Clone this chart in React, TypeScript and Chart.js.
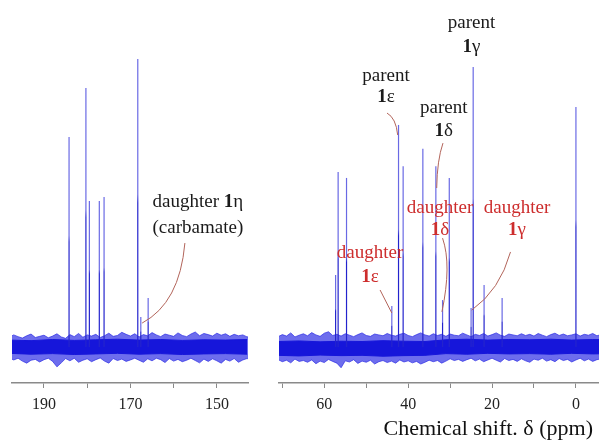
import React, { useEffect, useRef } from 'react';
import { Chart, registerables } from 'chart.js';
Chart.register(...registerables);

const SERIF = '"Liberation Serif", "Times New Roman", Times, serif';

// ---- data (ppm, relative intensity) ----
const leftPeakPpm = [184.2, 180.3, 179.5, 177.2, 176.1, 168.3, 167.6, 165.9];
const leftPeakHeight = [72.9, 89.9, 50.7, 50.7, 52.1, 100, 10.4, 17.0];
const rightPeakPpm = [57.3, 56.7, 54.7, 43.9, 42.3, 41.2, 36.5, 33.4, 31.8, 30.2, 25.0, 24.5, 21.9, 17.6, 0.0];
const rightPeakHeight = [25, 60.8, 58.7, 14.2, 77.1, 62.8, 68.8, 62.8, 16.3, 58.7, 13.5, 97.2, 21.5, 17.0, 83.3];

// noise envelope sampled every 1 ppm (left: 198 -> 142, right: 71 -> -6)
const leftNoiseUpper = [3.4,4.2,3.6,3.1,3.9,4.5,3.3,3.7,4.1,3.2,3.8,4.6,3.5,3.0,4.3,3.6,4.7,3.4,4.2,3.8,4.4,3.3,3.9,4.8,3.7,4.0,5.1,4.4,3.8,4.6,3.5,4.3,3.9,5.0,4.2,3.6,4.5,4.1,3.7,4.9,4.0,3.6,4.5,5.2,3.9,4.7,4.3,3.8,4.8,4.1,4.6,3.7,4.4,3.9,4.2,3.5,4.0];
const leftNoiseLower = [-3.8,-4.5,-3.9,-4.9,-5.6,-4.6,-4.3,-5.2,-4.4,-3.9,-5.0,-6.9,-5.5,-4.0,-4.8,-3.9,-5.3,-4.6,-4.1,-5.1,-4.4,-3.8,-4.9,-5.6,-4.0,-4.7,-4.2,-5.0,-4.5,-3.9,-4.6,-5.3,-4.1,-4.8,-3.9,-4.4,-5.4,-4.0,-4.9,-4.3,-5.1,-4.6,-3.9,-4.7,-5.5,-4.2,-5.0,-4.1,-4.8,-5.6,-4.3,-4.9,-4.0,-5.3,-4.5,-4.0,-4.6];
const rightNoiseUpper = [3.6,4.3,3.8,4.9,3.5,4.1,4.6,3.9,5.0,4.2,3.7,4.8,5.3,4.0,4.4,3.8,4.6,4.1,3.6,4.3,4.9,4.0,3.7,4.5,4.2,3.9,4.7,4.1,3.8,4.4,4.8,4.0,3.6,4.3,4.9,4.2,3.8,4.6,4.0,4.4,3.7,4.5,4.1,3.9,4.8,4.2,3.6,4.4,4.0,4.7,3.8,4.3,4.9,4.1,3.7,4.5,4.2,3.9,4.6,4.0,4.4,3.8,4.7,4.1,3.6,4.3,4.8,4.0,4.5,3.9,4.2,4.6,3.8,4.4,4.1,4.7,3.9,4.3];
const rightNoiseLower = [-4.4,-5.1,-4.6,-5.5,-4.2,-5.0,-4.7,-5.3,-4.5,-5.8,-4.9,-5.4,-4.3,-5.0,-5.6,-7.2,-4.8,-5.2,-4.4,-5.7,-4.9,-5.3,-4.6,-5.9,-5.1,-4.7,-5.4,-4.9,-5.6,-4.5,-5.2,-4.8,-5.5,-5.0,-5.9,-5.3,-4.6,-5.1,-4.7,-5.6,-4.9,-4.1,-4.7,-4.3,-5.0,-4.4,-3.9,-4.8,-4.2,-5.1,-4.5,-3.9,-4.6,-5.2,-4.0,-4.7,-4.3,-5.0,-4.1,-4.8,-5.3,-4.2,-4.6,-3.9,-4.9,-4.4,-5.1,-4.0,-4.7,-4.3,-5.2,-4.5,-3.9,-4.8,-4.2,-5.0,-4.4,-4.1];

// dense noise core sampled every 5 ppm (left: 198 -> 143, right: 71 -> -9)
const leftCoreUpper = [2.4,2.2,2.6,2.3,2.5,2.7,2.4,2.6,2.3,2.5,2.4,2.6];
const leftCoreLower = [-2.2,-2.5,-2.3,-2.6,-2.4,-2.2,-2.5,-2.3,-2.6,-2.4,-2.3,-2.5];
const rightCoreUpper = [1.9,2.1,1.8,2.0,1.9,2.2,2.0,1.9,2.5,2.7,2.4,2.6,2.5,2.7,2.4,2.6,2.5];
const rightCoreLower = [-2.9,-3.1,-2.8,-3.0,-2.9,-3.2,-3.0,-2.9,-2.3,-2.5,-2.2,-2.4,-2.3,-2.5,-2.2,-2.4,-2.3];

const leftTicks = [190, 180, 170, 160, 150];
const leftTickLabels = [190, 170, 150];
const rightTicks = [70, 60, 50, 40, 30, 20, 10, 0];
const rightTickLabels = [60, 40, 20, 0];

const axisTitle = 'Chemical shift. δ (ppm)';

// annotations: lines of [text, bold] parts, anchored in data units
type Note = { lines: [string, boolean][][]; x: number; y: number[]; kind: 'parent' | 'daughter'; leader?: number[] };
const leftNotes: Note[] = [
  { lines: [[['daughter ', false], ['1', true], ['η', false]], [['(carbamate)', false]]], x: 154.4, y: [50.3, 41.3], kind: 'parent', leader: [157.4, 36.1, 158.6, 15.3, 167.3, 8.3] },
];
const rightNotes: Note[] = [
  { lines: [[['parent', false]], [['1', true], ['γ', false]]], x: 24.9, y: [112.5, 104.2], kind: 'parent' },
  { lines: [[['parent', false]], [['1', true], ['ε', false]]], x: 45.3, y: [94.1, 86.8], kind: 'parent', leader: [45.05, 81.25, 42.9, 79.5, 42.5, 73.6] },
  { lines: [[['parent', false]], [['1', true], ['δ', false]]], x: 31.5, y: [83, 75], kind: 'parent', leader: [31.7, 70.8, 33.1, 64.9, 33.2, 55.2] },
  { lines: [[['daughter', false]], [['1', true], ['δ', false]]], x: 32.4, y: [48.3, 40.6], kind: 'daughter', leader: [31.8, 37.8, 29.6, 28.5, 31.95, 12.2] },
  { lines: [[['daughter', false]], [['1', true], ['γ', false]]], x: 14.05, y: [48.3, 40.6], kind: 'daughter', leader: [15.6, 33, 18.1, 19.8, 24.85, 12.8] },
  { lines: [[['daughter', false]], [['1', true], ['ε', false]]], x: 49.1, y: [32.6, 24.3], kind: 'daughter', leader: [46.7, 19.8, 45.3, 15.8, 43.9, 11.8] },
];

const PEAK_DARK = 'rgb(35,35,205)';
const PEAK_LIGHT = 'rgb(105,105,228)';
const NOISE_CORE = 'rgb(22,22,218)';
const NOISE_FRINGE = 'rgba(40,40,228,0.68)';
const PARENT_COLOR = '#1a1a1a';
const DAUGHTER_COLOR = 'rgb(205,45,45)';
const LEADER_COLOR = 'rgb(178,100,90)';

type Panel = {
  min: number; max: number; ticks: number[]; labels: number[];
  peakPpm: number[]; peakH: number[];
  noiseStart: number; noiseUp: number[]; noiseLow: number[];
  coreStart: number; coreUp: number[]; coreLow: number[];
  notes: Note[]; title: boolean; pad: { left: number; right: number; top: number; bottom: number };
};

const sampled = (start: number, step: number, vals: number[]) => vals.map((v, i) => ({ x: start - i * step, y: v }));

function makeChart(canvas: HTMLCanvasElement, p: Panel) {
  const g2d = canvas.getContext('2d')!;
  const peakData: any[] = [];
  p.peakPpm.forEach((x, i) => {
    peakData.push({ x, y: 0 }, { x, y: p.peakH[i] }, { x, y: null });
  });
  const notePlugin = {
    id: 'notes',
    afterDatasetsDraw(chart: any) {
      const xs = chart.scales.x, ys = chart.scales.y, c = chart.ctx;
      c.save();
      p.notes.forEach((n) => {
        const col = n.kind === 'daughter' ? DAUGHTER_COLOR : PARENT_COLOR;
        n.lines.forEach((line, li) => {
          const fonts = line.map(([, b]) => `${b ? 'bold ' : ''}19px ${SERIF}`);
          let total = 0;
          const widths = line.map(([t], k) => { c.font = fonts[k]; const w = c.measureText(t).width; total += w; return w; });
          let cx = xs.getPixelForValue(n.x) - total / 2;
          const cy = ys.getPixelForValue(n.y[li]);
          c.fillStyle = col;
          c.textBaseline = 'middle';
          c.textAlign = 'left';
          line.forEach(([t], k) => { c.font = fonts[k]; c.fillText(t, cx, cy); cx += widths[k]; });
        });
        if (n.leader) {
          const L = n.leader;
          c.strokeStyle = LEADER_COLOR;
          c.lineWidth = 1;
          c.beginPath();
          c.moveTo(xs.getPixelForValue(L[0]), ys.getPixelForValue(L[1]));
          c.quadraticCurveTo(xs.getPixelForValue(L[2]), ys.getPixelForValue(L[3]), xs.getPixelForValue(L[4]), ys.getPixelForValue(L[5]));
          c.stroke();
        }
      });
      if (p.title) {
        // axis title, right-aligned under the scale
        c.font = `22px ${SERIF}`;
        c.fillStyle = '#111';
        c.textAlign = 'right';
        c.textBaseline = 'middle';
        c.fillText(axisTitle, chart.chartArea.right - 6, xs.bottom + 8);
      }
      c.restore();
    },
  };
  return new Chart(canvas, {
    type: 'scatter',
    data: {
      datasets: [
        {
          data: peakData, showLine: true, pointRadius: 0, borderWidth: 1.2, spanGaps: false,
          borderColor: PEAK_DARK,
          segment: {
            borderColor: (sc: any) => {
              const y0 = sc.p0.y, y1 = sc.p1.y;
              if (!isFinite(y0) || !isFinite(y1) || Math.abs(y0 - y1) < 2) return PEAK_DARK;
              const gr = g2d.createLinearGradient(0, y0, 0, y1);
              gr.addColorStop(0, PEAK_DARK); gr.addColorStop(0.5, PEAK_DARK);
              gr.addColorStop(0.53, PEAK_LIGHT); gr.addColorStop(1, PEAK_LIGHT);
              return gr;
            },
          },
        } as any,
        { data: sampled(p.coreStart, 5, p.coreUp), showLine: true, pointRadius: 0, borderWidth: 1, borderColor: NOISE_CORE, backgroundColor: NOISE_CORE, fill: '+1' },
        { data: sampled(p.coreStart, 5, p.coreLow), showLine: true, pointRadius: 0, borderWidth: 1, borderColor: NOISE_CORE, fill: false },
        { data: sampled(p.noiseStart, 1, p.noiseUp), showLine: true, pointRadius: 0, borderWidth: 1, borderColor: NOISE_FRINGE, backgroundColor: NOISE_FRINGE, fill: '+1' },
        { data: sampled(p.noiseStart, 1, p.noiseLow), showLine: true, pointRadius: 0, borderWidth: 1, borderColor: NOISE_FRINGE, fill: false },
      ],
    },
    options: {
      responsive: false,
      animation: false,
      events: [],
      layout: { padding: p.pad },
      plugins: { legend: { display: false }, tooltip: { enabled: false } },
      scales: {
        x: {
          type: 'linear', reverse: true, min: p.min, max: p.max,
          afterBuildTicks: (axis: any) => { axis.ticks = p.ticks.map((v) => ({ value: v })); },
          ticks: {
            autoSkip: false, maxRotation: 0, padding: 7, color: '#222',
            font: { family: SERIF, size: 16 },
            callback: (v: any) => (p.labels.includes(Number(v)) ? String(v) : ''),
          },
          grid: { display: true, drawOnChartArea: false, drawTicks: true, tickLength: 5, color: '#8a8a8a', lineWidth: 1 },
          border: { display: true, color: '#8a8a8a', width: 1.5 },
          title: { display: false },
        },
        y: { type: 'linear', display: false, min: -12.5, max: 118.75 },
      },
    } as any,
    plugins: [notePlugin],
  });
}

const leftPanel: Panel = {
  min: 142.8, max: 197.4, ticks: leftTicks, labels: leftTickLabels,
  peakPpm: leftPeakPpm, peakH: leftPeakHeight,
  noiseStart: 198, noiseUp: leftNoiseUpper, noiseLow: leftNoiseLower,
  coreStart: 198, coreUp: leftCoreUpper, coreLow: leftCoreLower,
  notes: leftNotes, title: false, pad: { left: 12, right: 14, top: 5, bottom: 18.8 },
};
const rightPanel: Panel = {
  min: -5.5, max: 70.8, ticks: rightTicks, labels: rightTickLabels,
  peakPpm: rightPeakPpm, peakH: rightPeakHeight,
  noiseStart: 71, noiseUp: rightNoiseUpper, noiseLow: rightNoiseLower,
  coreStart: 71, coreUp: rightCoreUpper, coreLow: rightCoreLower,
  notes: rightNotes, title: true, pad: { left: 14, right: 0, top: 5, bottom: 18.8 },
};

export default function App() {
  const leftRef = useRef<HTMLCanvasElement>(null);
  const rightRef = useRef<HTMLCanvasElement>(null);
  useEffect(() => {
    const a = makeChart(leftRef.current!, leftPanel);
    const b = makeChart(rightRef.current!, rightPanel);
    return () => { a.destroy(); b.destroy(); };
  }, []);
  return (
    <div style={{ position: 'fixed', left: 0, top: 0, width: 599, height: 440, background: '#fff', overflow: 'hidden' }}>
      <canvas ref={leftRef} width={262} height={440} style={{ position: 'absolute', left: 0, top: 0 }} />
      <canvas ref={rightRef} width={334} height={440} style={{ position: 'absolute', left: 265, top: 0 }} />
    </div>
  );
}
